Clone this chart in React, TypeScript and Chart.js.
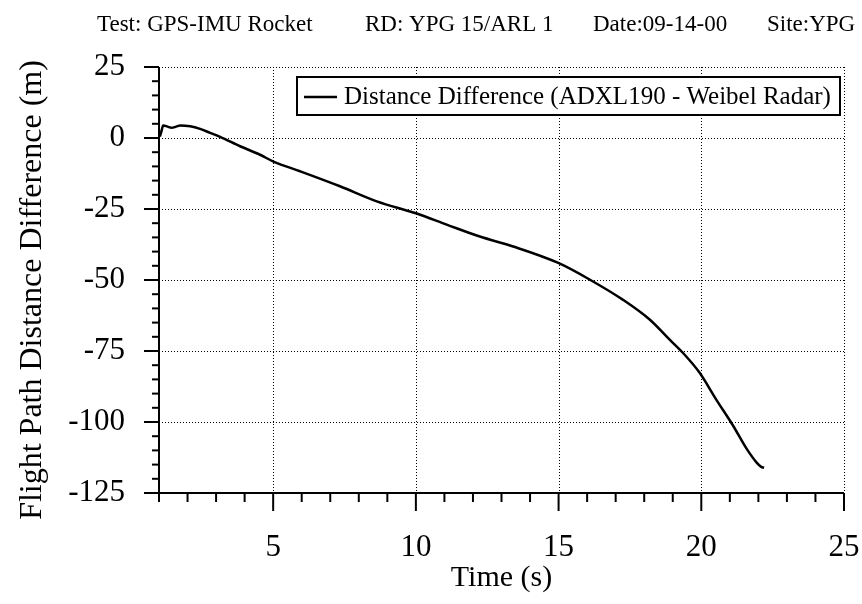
import React, { useEffect, useRef } from "react";
import { Chart, registerables } from "chart.js";

Chart.register(...registerables);

// ---- data ----
const timeS = [
  1.03, 1.07, 1.15, 1.3, 1.44, 1.6, 1.74, 2.09, 2.44, 2.79, 3.14, 3.84, 4.54,
  5.03, 5.94, 7.34, 8.63, 10.03, 11.08, 12.24, 13.41, 14.99, 16.1, 17.26, 18.2,
  18.9, 19.37, 19.93, 20.53, 21.12, 21.58, 21.94, 22.1, 22.2,
];
const distDiff = [
  0.5, 1.8, 4.4, 4.0, 3.6, 4.0, 4.4, 4.1, 3.2, 1.8, 0.4, -2.9, -5.9, -8.4,
  -11.7, -17.0, -22.3, -26.6, -30.5, -34.7, -38.2, -44.0, -49.9, -57.0, -64.0,
  -71.1, -75.8, -82.5, -92.2, -101.4, -109.3, -114.3, -115.8, -116.1,
];
const xTicks = [5, 10, 15, 20, 25];
const yTicks = [25, 0, -25, -50, -75, -100, -125];
const headerItems = [
  "Test: GPS-IMU Rocket",
  "RD: YPG 15/ARL 1",
  "Date:09-14-00",
  "Site:YPG",
];
const seriesLabel = "Distance Difference (ADXL190 - Weibel Radar)";
const xTitle = "Time (s)";
const yTitle = "Flight Path Distance Difference (m)";

const FAMILY = '"Liberation Serif", "Times New Roman", Times, serif';

const decorPlugin = {
  id: "decor",
  beforeDatasetsDraw(chart: any) {
    const { ctx, chartArea: a, scales } = chart;
    const xs = scales.x;
    const ys = scales.y;
    ctx.save();
    ctx.strokeStyle = "#000";
    ctx.lineWidth = 1;
    ctx.setLineDash([1, 2]);
    for (const v of xTicks) {
      const px = Math.round(xs.getPixelForValue(v)) + 0.5;
      ctx.beginPath();
      ctx.moveTo(px, a.top);
      ctx.lineTo(px, a.bottom);
      ctx.stroke();
    }
    for (const v of yTicks) {
      if (v === -125) continue;
      const py = Math.round(ys.getPixelForValue(v)) + 0.5;
      ctx.beginPath();
      ctx.moveTo(a.left, py);
      ctx.lineTo(a.right, py);
      ctx.stroke();
    }
    ctx.restore();
  },
  afterDatasetsDraw(chart: any) {
    const { ctx, chartArea: a, scales } = chart;
    const xs = scales.x;
    const ys = scales.y;
    ctx.save();
    ctx.strokeStyle = "#000";
    ctx.fillStyle = "#000";
    ctx.setLineDash([]);
    // axes
    ctx.lineWidth = 2;
    ctx.beginPath();
    ctx.moveTo(a.left, a.top);
    ctx.lineTo(a.left, a.bottom);
    ctx.lineTo(a.right, a.bottom);
    ctx.stroke();
    // y ticks
    ctx.lineWidth = 2;
    for (let v = -125; v <= 25; v += 5) {
      const py = ys.getPixelForValue(v);
      const len = v % 25 === 0 ? 15 : 7;
      ctx.beginPath();
      ctx.moveTo(a.left, py);
      ctx.lineTo(a.left - len, py);
      ctx.stroke();
    }
    // x ticks
    for (let v = 1; v <= 25; v += 1) {
      const px = xs.getPixelForValue(v);
      const len = v % 5 === 0 ? 18 : 9;
      ctx.beginPath();
      ctx.moveTo(px, a.bottom);
      ctx.lineTo(px, a.bottom + len);
      ctx.stroke();
    }
    // legend box
    ctx.fillStyle = "#fff";
    ctx.fillRect(297, 77, 543, 38);
    ctx.lineWidth = 2;
    ctx.strokeRect(297, 77, 543, 38);
    ctx.lineWidth = 2.5;
    ctx.beginPath();
    ctx.moveTo(304, 97);
    ctx.lineTo(337, 97);
    ctx.stroke();
    ctx.fillStyle = "#000";
    ctx.font = `25px ${FAMILY}`;
    ctx.textAlign = "left";
    ctx.textBaseline = "middle";
    ctx.fillText(seriesLabel, 344, 97);
    // header
    ctx.font = `23px ${FAMILY}`;
    ctx.textBaseline = "alphabetic";
    const hx = [97, 365, 593, 767];
    headerItems.forEach((t, i) => ctx.fillText(t, hx[i], 31));
    // axis titles
    ctx.font = `30px ${FAMILY}`;
    ctx.textAlign = "center";
    ctx.textBaseline = "middle";
    ctx.fillText(xTitle, (a.left + a.right) / 2, 578);
    ctx.save();
    ctx.translate(33, 290);
    ctx.rotate(-Math.PI / 2);
    ctx.font = `32px ${FAMILY}`;
    ctx.fillText(yTitle, 0, 0);
    ctx.restore();
    ctx.restore();
  },
};

export default function App() {
  const ref = useRef<HTMLCanvasElement | null>(null);
  useEffect(() => {
    if (!ref.current) return;
    const chart = new Chart(ref.current, {
      type: "scatter",
      data: {
        datasets: [
          {
            label: seriesLabel,
            data: timeS.map((t, i) => ({ x: t, y: distDiff[i] })),
            showLine: true,
            borderColor: "#000",
            backgroundColor: "#000",
            borderWidth: 2.5,
            pointRadius: 0,
            cubicInterpolationMode: "monotone",
          },
        ],
      },
      options: {
        animation: false,
        responsive: false,
        devicePixelRatio: 1,
        layout: { padding: { top: 67, right: 18, bottom: 0, left: 0 } },
        plugins: { legend: { display: false }, tooltip: { enabled: false } },
        scales: {
          x: {
            type: "linear",
            min: 1,
            max: 25,
            afterBuildTicks: (s: any) => {
              s.ticks = xTicks.map((v) => ({ value: v }));
            },
            afterFit: (s: any) => {
              s.height = 111;
              s.paddingLeft = 0;
              s.paddingRight = 0;
            },
            grid: { display: false },
            border: { display: false },
            ticks: {
              color: "#000",
              padding: 28,
              maxRotation: 0,
              font: { family: FAMILY, size: 31 },
            },
          },
          y: {
            type: "linear",
            min: -125,
            max: 25,
            afterBuildTicks: (s: any) => {
              s.ticks = yTicks.map((v) => ({ value: v }));
            },
            afterFit: (s: any) => {
              s.width = 159;
              s.paddingTop = 0;
              s.paddingBottom = 0;
            },
            grid: { display: false },
            border: { display: false },
            ticks: {
              color: "#000",
              padding: 26,
              font: { family: FAMILY, size: 31 },
            },
          },
        },
      },
      plugins: [decorPlugin],
    } as any);
    return () => chart.destroy();
  }, []);
  return (
    <div
      style={{
        position: "absolute",
        left: 0,
        top: 0,
        width: 862,
        height: 604,
        background: "#fff",
      }}
    >
      <canvas ref={ref} width={862} height={604} />
    </div>
  );
}
